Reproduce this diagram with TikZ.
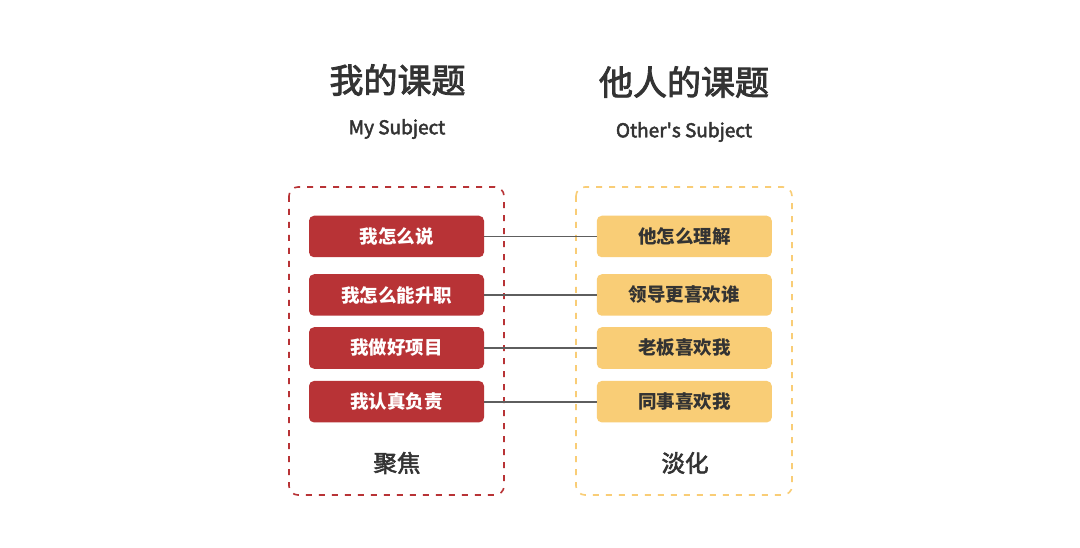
\documentclass[tikz,border=0pt]{standalone}
\usepackage{fontspec}
\setmainfont{Noto Sans CJK SC}
\newfontfamily\medfont{Noto Sans CJK SC}[FakeBold=2.5]
\definecolor{myred}{HTML}{B83336}
\definecolor{myyellow}{HTML}{F9CD76}
\definecolor{txt}{HTML}{333333}
\definecolor{linkgray}{HTML}{5E5E5E}
\begin{document}
\begin{tikzpicture}[x=1pt,y=-1pt,
  frame/.style={line width=1.6pt, dash pattern=on 6pt off 7pt, rounded corners=9pt},
  redbox/.style={fill=myred, draw=none, rounded corners=5pt, minimum width=175pt, minimum height=41.5pt, inner sep=0pt, text=white, font=\fontsize{18.5}{22}\selectfont\bfseries},
  yelbox/.style={fill=myyellow, draw=none, rounded corners=5pt, minimum width=175pt, minimum height=41.5pt, inner sep=0pt, text=txt, font=\fontsize{18.5}{22}\selectfont\bfseries},
  title/.style={text=txt, font=\fontsize{34}{40}\selectfont\medfont, inner sep=0pt},
  subtitle/.style={text=txt, font=\fontsize{19}{22}\selectfont\medfont, inner sep=0pt},
  foot/.style={text=txt, font=\fontsize{23.5}{28}\selectfont\medfont, inner sep=0pt},
  link/.style={draw=linkgray, line width=1.6pt}]
\useasboundingbox[fill=white] (0,0) rectangle (1080,548);
\draw[frame, draw=myred] (289,187) rectangle (504,495);
\draw[frame, draw=myyellow] (576,187) rectangle (792,495);
\node[title] (t1) at (397.5,80) {我的课题};
\node[title] (t2) at (684,82) {他人的课题};
\node[subtitle] (s1) at (397,129) {My Subject};
\node[subtitle] (s2) at (684,132) {Other\textquotesingle s Subject};
\node[redbox] (r1) at (396.5,236.5) {我怎么说};
\node[redbox] (r2) at (396.5,295) {我怎么能升职};
\node[redbox] (r3) at (396.5,348) {我做好项目};
\node[redbox] (r4) at (396.5,401.7) {我认真负责};
\node[yelbox] (y1) at (684.3,236.5) {他怎么理解};
\node[yelbox] (y2) at (684.3,295) {领导更喜欢谁};
\node[yelbox] (y3) at (684.3,348) {老板喜欢我};
\node[yelbox] (y4) at (684.3,401.7) {同事喜欢我};
\foreach \i in {1,2,3,4} \draw[link] (r\i.east) -- (y\i.west);
\node[foot] (f1) at (397,463) {聚焦};
\node[foot] (f2) at (685,463) {淡化};
\end{tikzpicture}
\end{document}
